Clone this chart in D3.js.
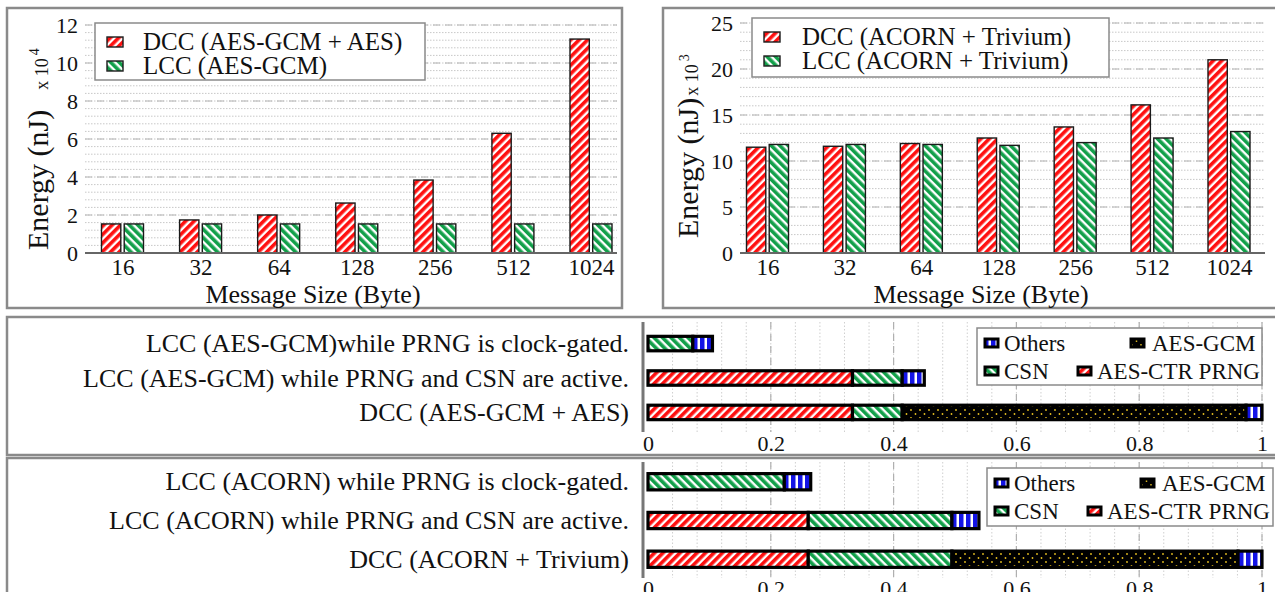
<!DOCTYPE html>
<html>
<head>
<meta charset="utf-8">
<script src="https://cdn.jsdelivr.net/npm/d3@7"></script>
<style>
  body { margin: 0; background: #fff; }
  text { font-family: "Liberation Serif", serif; fill: #111; }
</style>
</head>
<body>
<script>
// ---- data ----
const msgSizes = ["16", "32", "64", "128", "256", "512", "1024"];
const aesDcc = [1.53, 1.74, 2.0, 2.63, 3.84, 6.3, 11.26];    // x 10^4 nJ
const aesLcc = [1.53, 1.53, 1.53, 1.53, 1.53, 1.53, 1.53];
const acornDcc = [11.5, 11.6, 11.9, 12.5, 13.7, 16.1, 21.0]; // x 10^3 nJ
const acornLcc = [11.8, 11.8, 11.8, 11.7, 12.0, 12.5, 13.2];

const stackKeys = ["AES-CTR PRNG", "CSN", "AES-GCM", "Others"];
const aesRows = ["LCC (AES-GCM)while PRNG is clock-gated.",
                 "LCC (AES-GCM) while PRNG and CSN are active.",
                 "DCC (AES-GCM + AES)"];
const aesShares = [[0, 0.073, 0, 0.032],
                   [0.333, 0.081, 0, 0.036],
                   [0.333, 0.081, 0.56, 0.026]];
const acornRows = ["LCC (ACORN) while PRNG is clock-gated.",
                   "LCC (ACORN) while PRNG and CSN are active.",
                   "DCC (ACORN + Trivium)"];
const acornShares = [[0, 0.222, 0, 0.043],
                     [0.261, 0.234, 0, 0.044],
                     [0.261, 0.234, 0.466, 0.039]];
const fracTicks = [0, 0.2, 0.4, 0.6, 0.8, 1];

const svg = d3.select("body").append("svg")
    .attr("width", 1275)
    .attr("height", 592);

// ---- patterns ----
const defs = svg.append("defs");
function stripes(id, color, angle, period, band) {
  const p = defs.append("pattern")
      .attr("id", id)
      .attr("patternUnits", "userSpaceOnUse")
      .attr("width", period).attr("height", period)
      .attr("patternTransform", `rotate(${angle})`);
  p.append("rect").attr("width", period).attr("height", period).attr("fill", "#fff");
  p.append("rect").attr("width", band).attr("height", period).attr("fill", color);
}
stripes("redUp", "#ff1010", 45, 6, 3.6);
stripes("greenDown", "#12a04a", -45, 6, 3.6);
stripes("blueBars", "#1414e6", 0, 7, 4.5);
const dots = defs.append("pattern")
    .attr("id", "goldDots")
    .attr("patternUnits", "userSpaceOnUse")
    .attr("width", 9).attr("height", 8);
dots.append("rect").attr("width", 9).attr("height", 8).attr("fill", "#000");
dots.append("circle").attr("cx", 2).attr("cy", 2).attr("r", 0.9).attr("fill", "#e8c020");
dots.append("circle").attr("cx", 6.5).attr("cy", 6).attr("r", 0.9).attr("fill", "#e8c020");

const fillFor = {
  "AES-CTR PRNG": "url(#redUp)",
  "CSN": "url(#greenDown)",
  "AES-GCM": "url(#goldDots)",
  "Others": "url(#blueBars)"
};

// ---- panel borders ----
function frame(x, y, w, h) {
  svg.append("rect")
     .attr("x", x).attr("y", y).attr("width", w).attr("height", h)
     .attr("fill", "none")
     .attr("stroke", "#8a8a8a")
     .attr("stroke-width", 2.5);
}
frame(7, 8, 615, 300);
frame(663, 8, 630, 300);
frame(7, 317, 1290, 138);
frame(7, 458, 1290, 150);

// ---- grouped bar charts ----
function barChart(o) {
  const g = svg.append("g");
  const x = d3.scalePoint().domain(msgSizes).range(o.centers);
  const inner = d3.scaleBand().domain(["dcc", "lcc"]).range([-21, 21]).paddingInner(0.15);
  const y = d3.scaleLinear().domain([0, o.max]).range([253, o.top]);

  const minor = d3.range(0, o.max + 1e-9, o.minor);
  const major = d3.range(0, o.max + 1e-9, o.major);

  g.selectAll(".minor").data(minor).join("line")
     .attr("x1", o.gridX[0]).attr("x2", o.gridX[1])
     .attr("y1", d => y(d)).attr("y2", d => y(d))
     .attr("stroke", "#c8c8c8").attr("stroke-width", 1)
     .attr("stroke-dasharray", "1.5,1.5");
  g.selectAll(".major").data(major.slice(1)).join("line")
     .attr("x1", o.gridX[0]).attr("x2", o.gridX[1])
     .attr("y1", d => y(d)).attr("y2", d => y(d))
     .attr("stroke", "#b4b4b4").attr("stroke-width", 1.2)
     .attr("stroke-dasharray", "7,5");

  const rows = msgSizes.map((s, i) => ({ size: s, dcc: o.dcc[i], lcc: o.lcc[i] }));
  const grp = g.selectAll(".grp").data(rows).join("g")
      .attr("transform", d => `translate(${x(d.size)},0)`);
  grp.selectAll("rect").data(d => [{ k: "dcc", v: d.dcc }, { k: "lcc", v: d.lcc }]).join("rect")
      .attr("x", d => inner(d.k))
      .attr("width", inner.bandwidth())
      .attr("y", d => y(d.v))
      .attr("height", d => y(0) - y(d.v))
      .attr("fill", d => d.k === "dcc" ? "url(#redUp)" : "url(#greenDown)")
      .attr("stroke", "#1a1a1a").attr("stroke-width", 1.4);

  g.append("line")
     .attr("x1", o.gridX[0]).attr("x2", o.gridX[1])
     .attr("y1", y(0)).attr("y2", y(0))
     .attr("stroke", "#666").attr("stroke-width", 2);

  const yAxis = d3.axisLeft(y).tickValues(major).tickSize(0).tickPadding(7)
      .tickFormat(d3.format("d"));
  g.append("g").attr("transform", `translate(${o.gridX[0]},0)`).call(yAxis)
   .call(a => a.select(".domain").remove())
   .selectAll("text").style("font-family", "Liberation Serif").style("font-size", "22px").attr("fill", "#111");

  const xAxis = d3.axisBottom(x).tickSize(0).tickPadding(6);
  g.append("g").attr("transform", `translate(0,${y(0)})`).call(xAxis)
   .call(a => a.select(".domain").remove())
   .selectAll("text").style("font-family", "Liberation Serif").style("font-size", "23px").attr("fill", "#111");

  g.append("text")
   .attr("x", o.titleX).attr("y", 303)
   .attr("text-anchor", "middle")
   .style("font-size", "26px")
   .text("Message Size (Byte)");

  const yl = g.append("text")
   .attr("transform", `translate(${o.ylabel[0]},${o.ylabel[1]}) rotate(-90)`)
   .style("font-size", "30px");
  yl.append("tspan").text("Energy (nJ)");
  yl.append("tspan").attr("dx", o.unitGap).style("font-size", "18px").text("x 10");
  yl.append("tspan").attr("dx", 3).attr("dy", -9).style("font-size", "14px").text(o.exp);

  // legend
  const lg = g.append("g");
  lg.append("rect")
    .attr("x", o.legend[0]).attr("y", o.legend[1])
    .attr("width", o.legend[2]).attr("height", o.legend[3])
    .attr("fill", "#fff").attr("stroke", "#8a8a8a").attr("stroke-width", 1.5);
  const items = [{ k: "dcc", t: o.names[0] }, { k: "lcc", t: o.names[1] }];
  const it = lg.selectAll(".it").data(items).join("g")
    .attr("transform", (d, i) => `translate(${o.legend[0]},${o.legend[1] + 19 + i * 24})`);
  it.append("rect")
    .attr("x", 12).attr("y", -5).attr("width", 16).attr("height", 10)
    .attr("fill", d => d.k === "dcc" ? "url(#redUp)" : "url(#greenDown)")
    .attr("stroke", "#1a1a1a").attr("stroke-width", 1.4);
  it.append("text")
    .attr("x", o.textX).attr("y", 8)
    .style("font-size", "25px")
    .text(d => d.t);
}

barChart({
  dcc: aesDcc, lcc: aesLcc, max: 12, top: 25, minor: 0.4, major: 2,
  centers: [122.5, 591], gridX: [85, 617], titleX: 313,
  ylabel: [48, 250], unitGap: 20, exp: "4",
  legend: [95, 23, 330, 57], textX: 48,
  names: ["DCC (AES-GCM + AES)", "LCC (AES-GCM)"]
});
barChart({
  dcc: acornDcc, lcc: acornLcc, max: 25, top: 23, minor: 1, major: 5,
  centers: [767.5, 1229], gridX: [740, 1265], titleX: 981,
  ylabel: [698, 238], unitGap: 2, exp: "3",
  legend: [752, 18, 357, 59], textX: 50,
  names: ["DCC (ACORN + Trivium)", "LCC (ACORN + Trivium)"]
});

// ---- stacked share bars ----
function shareChart(o) {
  const g = svg.append("g");
  const x = d3.scaleLinear().domain([0, 1]).range([648, 1262]);
  const y = d3.scaleBand().domain(o.rows).range(o.band).paddingInner(0.58).paddingOuter(0.3);

  const minor = d3.range(0.04, 1.0001, 0.04);
  g.selectAll(".minor").data(minor).join("line")
   .attr("x1", d => x(d)).attr("x2", d => x(d))
   .attr("y1", o.plotY[0]).attr("y2", o.plotY[1])
   .attr("stroke", "#cfcfcf").attr("stroke-dasharray", "1.5,2");
  g.selectAll(".major").data(fracTicks.slice(1)).join("line")
   .attr("x1", d => x(d)).attr("x2", d => x(d))
   .attr("y1", o.plotY[0]).attr("y2", o.plotY[1])
   .attr("stroke", "#b0b0b0").attr("stroke-width", 1.2).attr("stroke-dasharray", "7,5");

  const table = o.rows.map((r, i) => {
    const row = { label: r };
    stackKeys.forEach((k, j) => row[k] = o.shares[i][j]);
    return row;
  });
  const series = d3.stack().keys(stackKeys)(table);

  series.forEach(s => {
    g.selectAll(null).data(s.filter(d => d[1] - d[0] > 0)).join("rect")
     .attr("x", d => x(d[0]))
     .attr("width", d => x(d[1]) - x(d[0]))
     .attr("y", d => y(d.data.label))
     .attr("height", y.bandwidth())
     .attr("fill", fillFor[s.key])
     .attr("stroke", "#000").attr("stroke-width", 3.2);
  });

  g.append("line")
   .attr("x1", 643).attr("x2", 643)
   .attr("y1", o.plotY[0]).attr("y2", o.plotY[1])
   .attr("stroke", "#777").attr("stroke-width", 3);

  g.selectAll(".rowlab").data(o.rows).join("text")
   .attr("x", 629)
   .attr("y", d => y(d) + y.bandwidth() / 2)
   .attr("dy", "0.33em")
   .attr("text-anchor", "end")
   .style("font-size", "26px")
   .text(d => d);

  const xAxis = d3.axisBottom(x).tickValues(fracTicks).tickSize(0).tickPadding(3)
      .tickFormat(d => String(d));
  g.append("g").attr("transform", `translate(0,${o.axisY})`).call(xAxis)
   .call(a => a.select(".domain").remove())
   .selectAll("text").style("font-family", "Liberation Serif").style("font-size", "22px").attr("fill", "#111");

  // legend
  const [lx, ly, lw, lh] = o.legend;
  g.append("rect").attr("x", lx).attr("y", ly).attr("width", lw).attr("height", lh)
   .attr("fill", "#fff").attr("stroke", "#8a8a8a").attr("stroke-width", 1.5);
  const entries = [
    { k: "Others", col: 0, row: 0 }, { k: "AES-GCM", col: 1, row: 0 },
    { k: "CSN", col: 0, row: 1 }, { k: "AES-CTR PRNG", col: 2, row: 1 }
  ];
  const colX = [[8, 27], [154, 175], [101, 120]];
  const le = g.selectAll(".le").data(entries).join("g")
   .attr("transform", d => `translate(${lx},${ly + 15 + d.row * 28})`);
  le.append("rect")
   .attr("x", d => colX[d.col][0]).attr("y", -4).attr("width", 13).attr("height", 8)
   .attr("fill", d => fillFor[d.k]).attr("stroke", "#000").attr("stroke-width", 3);
  le.append("text")
   .attr("x", d => colX[d.col][1]).attr("y", 8)
   .style("font-size", "23px")
   .text(d => d.k);
}

shareChart({
  rows: aesRows, shares: aesShares, band: [326, 430], plotY: [322, 432],
  axisY: 432, legend: [977, 328, 285, 57]
});
shareChart({
  rows: acornRows, shares: acornShares, band: [462, 579], plotY: [462, 578],
  axisY: 577, legend: [987, 468, 286, 58]
});
</script>
</body>
</html>
